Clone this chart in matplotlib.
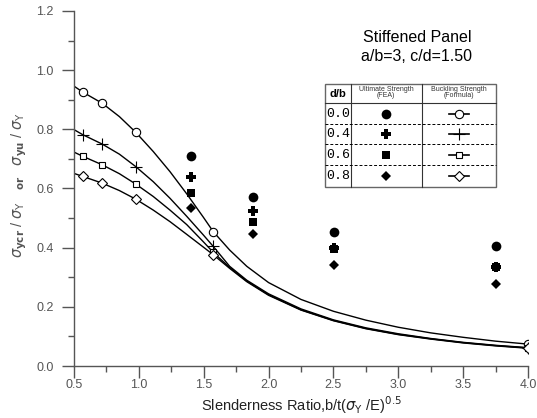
import numpy as np
import matplotlib.pyplot as plt
from matplotlib.lines import Line2D
from matplotlib.patches import Rectangle

plt.rcParams['font.family'] = ['Liberation Sans', 'DejaVu Sans']
plt.rcParams['mathtext.fontset'] = 'dejavusans'

# buckling strength curves (formula), one per d/b
beta = [0.5, 0.567, 0.718, 0.85, 0.976, 1.111, 1.24, 1.369, 1.497, 1.574,
        1.7, 1.832, 2.0, 2.25, 2.5, 2.75, 3.0, 3.25, 3.5, 3.75, 4.0]
buck_00 = [0.946, 0.926, 0.888, 0.843, 0.790, 0.725, 0.657, 0.582, 0.503, 0.454,
           0.392, 0.337, 0.282, 0.225, 0.185, 0.155, 0.131, 0.112, 0.097, 0.084, 0.074]
buck_04 = [0.799, 0.782, 0.750, 0.716, 0.674, 0.623, 0.567, 0.506, 0.443, 0.404,
           0.337, 0.290, 0.244, 0.193, 0.156, 0.129, 0.109, 0.093, 0.080, 0.070, 0.062]
buck_06 = [0.723, 0.709, 0.680, 0.650, 0.615, 0.573, 0.527, 0.478, 0.420, 0.384,
           0.333, 0.287, 0.241, 0.190, 0.154, 0.127, 0.107, 0.092, 0.079, 0.069, 0.061]
buck_08 = [0.651, 0.641, 0.618, 0.593, 0.564, 0.527, 0.488, 0.445, 0.402, 0.376,
           0.330, 0.285, 0.239, 0.189, 0.153, 0.126, 0.106, 0.091, 0.078, 0.068, 0.060]
mark_idx = [1, 2, 4, 9, 20]

# ultimate strength (FEA)
fea_beta = [1.402, 1.878, 2.507, 3.754]
fea_00 = [0.710, 0.570, 0.453, 0.407]
fea_04 = [0.640, 0.524, 0.400, 0.335]
fea_06 = [0.586, 0.486, 0.394, 0.333]
fea_08 = [0.533, 0.445, 0.341, 0.276]

db_labels = ['0.0', '0.4', '0.6', '0.8']
buck_markers = ['o', '+', 's', 'D']
fea_markers = ['o', 'P', 's', 'D']
buck_sizes = [6, 8, 5, 5]
fea_sizes = [7, 7, 6, 5]

fig = plt.figure(figsize=(5.37, 4.18), dpi=100)
ax = fig.add_axes([0.1378, 0.1244, 0.8454, 0.8493])

for ys, m, ms in zip([buck_00, buck_04, buck_06, buck_08], buck_markers, buck_sizes):
    ax.plot(beta, ys, color='black', lw=1.0, marker=m, markevery=mark_idx,
            markersize=ms, markerfacecolor='white', markeredgecolor='black',
            markeredgewidth=0.8)

for ys, m, ms in zip([fea_00, fea_04, fea_06, fea_08], fea_markers, fea_sizes):
    ax.plot(fea_beta, ys, ls='none', marker=m, markersize=ms, color='black',
            markeredgewidth=0)

ax.set_xlim(0.5, 4.0)
ax.set_ylim(0.0, 1.2)
ax.set_xticks(np.arange(0.5, 4.01, 0.5))
ax.set_xticks(np.arange(0.75, 4.0, 0.5), minor=True)
ax.set_yticks(np.arange(0.0, 1.21, 0.2))
ax.set_yticks(np.arange(0.1, 1.2, 0.2), minor=True)
ax.xaxis.set_major_formatter(plt.FormatStrFormatter('%.1f'))
ax.yaxis.set_major_formatter(plt.FormatStrFormatter('%.1f'))

for s in ['top', 'right']:
    ax.spines[s].set_visible(False)
for s in ['left', 'bottom']:
    ax.spines[s].set_color('#555555')
    ax.spines[s].set_linewidth(1.0)
ax.tick_params(which='major', direction='out', length=8.6, width=1.0,
               color='#555555', labelcolor='#555555', labelsize=9)
ax.tick_params(which='minor', direction='out', length=4.3, width=1.0, color='#555555')
ax.tick_params(axis='x', which='major', pad=1)
ax.tick_params(axis='y', which='major', pad=6)

ax.set_xlabel(r'Slenderness Ratio,b/t($\sigma_{\mathrm{Y}}$ /E)$^{0.5}$',
              fontsize=10.5, color='#222222', labelpad=2)
ax.set_ylabel(r'$\sigma_{\mathbf{ycr}}$ / $\sigma_{\mathrm{Y}}$   $\mathbf{{}_{or}}$   '
              r'$\sigma_{\mathbf{yu}}$ / $\sigma_{\mathrm{Y}}$',
              fontsize=10.5, color='#555555')
ax.yaxis.set_label_coords(-0.1, 0.51)

# title and legend table
ax.text(0.755, 0.925, 'Stiffened Panel', transform=ax.transAxes,
        ha='center', va='center', fontsize=11.5)
ax.text(0.755, 0.873, 'a/b=3, c/d=1.50', transform=ax.transAxes,
        ha='center', va='center', fontsize=11.5)

x0, x1, x2, x3 = 0.5529, 0.6094, 0.7659, 0.9295
y_top, y_head, y_bot = 0.7935, 0.740, 0.5051
row_lines = [0.6817, 0.6245, 0.5662]
row_mid = [0.7108, 0.6535, 0.5954, 0.5358]

ax.add_patch(Rectangle((x0, y_bot), x3 - x0, y_top - y_bot, transform=ax.transAxes,
                       facecolor='white', edgecolor='#666666', lw=1.0, zorder=3))
tl = dict(transform=ax.transAxes, color='#333333', lw=0.8, zorder=4)
ax.add_line(Line2D([x1, x1], [y_bot, y_top], **tl))
ax.add_line(Line2D([x2, x2], [y_bot, y_top], **tl))
ax.add_line(Line2D([x0, x3], [y_head, y_head], **tl))
for yl in row_lines:
    ax.add_line(Line2D([x0, x3], [yl, yl], transform=ax.transAxes, color='black',
                       lw=0.7, ls=(0, (3, 2)), zorder=4))

ax.text((x0 + x1) / 2, (y_head + y_top) / 2, 'd/b', transform=ax.transAxes,
        ha='center', va='center', fontsize=8, fontweight='bold', zorder=5)
ax.text((x1 + x2) / 2, (y_head + y_top) / 2 + 0.003, 'Ultimate Strength\n(FEA)',
        transform=ax.transAxes, ha='center', va='center', fontsize=5,
        linespacing=0.8, color='#333333', zorder=5)
ax.text((x2 + x3) / 2, (y_head + y_top) / 2 + 0.003, 'Buckling Strength\n(Formula)',
        transform=ax.transAxes, ha='center', va='center', fontsize=5,
        linespacing=0.8, color='#333333', zorder=5)

cx_fea = (x1 + x2) / 2
cx_buck = (x2 + x3) / 2
for lab, yc, fm, fs, bm, bs in zip(db_labels, row_mid, fea_markers, fea_sizes,
                                   buck_markers, buck_sizes):
    ax.text((x0 + x1) / 2, yc, lab, transform=ax.transAxes, ha='center', va='center',
            fontsize=9.5, family='Liberation Mono', zorder=5)
    ax.plot([cx_fea], [yc], transform=ax.transAxes, marker=fm, markersize=fs,
            color='black', markeredgewidth=0, zorder=5, clip_on=False)
    ax.plot([cx_buck - 0.022, cx_buck + 0.022], [yc, yc], transform=ax.transAxes,
            color='black', lw=1.2, zorder=5, clip_on=False)
    ax.plot([cx_buck], [yc], transform=ax.transAxes, marker=bm, markersize=bs,
            markerfacecolor='white', markeredgecolor='black', markeredgewidth=0.8,
            ls='none', zorder=6, clip_on=False)

fig.savefig('out.png', dpi=100)
